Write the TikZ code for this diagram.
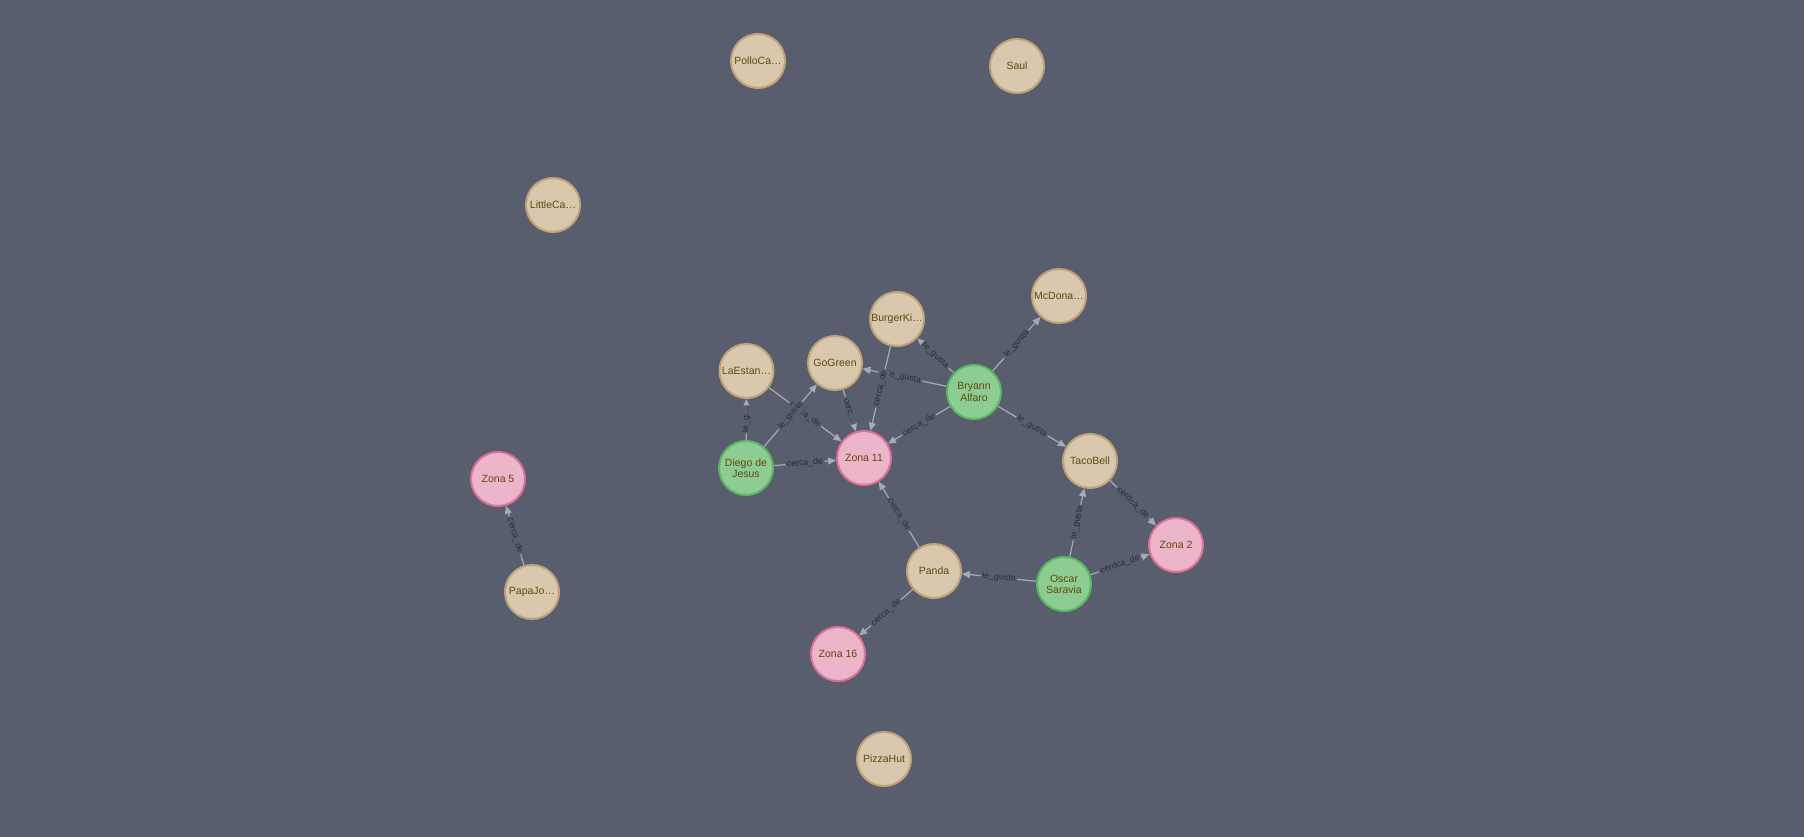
\documentclass[tikz,border=0pt]{standalone}
\usepackage{fontspec}
\setmainfont{Liberation Sans}
\usetikzlibrary{arrows.meta}
\definecolor{bg}{RGB}{89,94,111}
\definecolor{tanfill}{HTML}{D9C8AE}
\definecolor{tanline}{HTML}{C0A378}
\definecolor{grfill}{HTML}{8DCC93}
\definecolor{grline}{HTML}{5DB665}
\definecolor{pkfill}{HTML}{ECB5C9}
\definecolor{pkline}{HTML}{DA7298}
\definecolor{captxt}{HTML}{604A0E}
\definecolor{reltxt}{HTML}{2A2C34}
\definecolor{relcol}{HTML}{A5ABB6}
\begin{document}
\begin{tikzpicture}[x=1pt,y=-1pt,
 gnode/.style={circle, minimum size=54pt, inner sep=0pt, line width=2pt, outer sep=1pt, text=captxt, font=\fontsize{10.5}{11.2}\selectfont, align=center},
 place/.style={gnode, fill=tanfill, draw=tanline},
 person/.style={gnode, fill=grfill, draw=grline},
 zona/.style={gnode, fill=pkfill, draw=pkline},
 rel/.style={draw=relcol, line width=1.2pt, -{Triangle[length=8pt,width=7pt]}},
 rlab/.style={sloped, fill=bg, inner sep=1.5pt, text=reltxt, font=\fontsize{8.8}{9}\selectfont}
]
\fill[bg] (0,0) rectangle (1804,837);
\useasboundingbox (0,0) rectangle (1804,837);

\node[place] (pollo) at (758,61) {PolloCa…};
\node[place] (saul) at (1017,66) {Saul};
\node[place] (little) at (553,205) {LittleCa…};
\node[place] (burger) at (897,319) {BurgerKi…};
\node[place] (mcdona) at (1059,296) {McDona…};
\node[place] (laestan) at (746.5,371) {LaEstan…};
\node[place] (gogreen) at (835,363) {GoGreen};
\node[person] (bryann) at (974,392) {Bryann\\Alfaro};
\node[person] (diego) at (746,468) {Diego de\\Jesus};
\node[zona] (zona11) at (864,458) {Zona 11};
\node[place] (tacobell) at (1090,461) {TacoBell};
\node[zona] (zona5) at (498,479) {Zona 5};
\node[zona] (zona2) at (1176,545) {Zona 2};
\node[place] (panda) at (934,571) {Panda};
\node[person] (oscar) at (1064,584) {Oscar\\Saravia};
\node[place] (papajo) at (532,592) {PapaJo…};
\node[zona] (zona16) at (838,654) {Zona 16};
\node[place] (pizzahut) at (884,759) {PizzaHut};

\draw[rel] (bryann) -- node[rlab]{le\_gusta} (mcdona);
\draw[rel] (bryann) -- node[rlab]{le\_gusta} (burger);
\draw[rel] (bryann) -- node[rlab]{le\_gusta} (gogreen);
\draw[rel] (bryann) -- node[rlab]{cerca\_de} (zona11);
\draw[rel] (bryann) -- node[rlab]{le\_gusta} (tacobell);
\draw[rel] (burger) -- node[rlab]{cerca\_de} (zona11);
\draw[rel] (gogreen) -- node[rlab]{cerc…} (zona11);
\draw[rel] (laestan) -- node[rlab]{cerca\_de} (zona11);
\draw[rel] (diego) -- node[rlab]{le\_g…} (laestan);
\draw[rel] (diego) -- node[rlab]{le\_gusta} (gogreen);
\draw[rel] (diego) -- node[rlab]{cerca\_de} (zona11);
\draw[rel] (panda) -- node[rlab]{cerca\_de} (zona11);
\draw[rel] (panda) -- node[rlab]{cerca\_de} (zona16);
\draw[rel] (oscar) -- node[rlab]{le\_gusta} (panda);
\draw[rel] (oscar) -- node[rlab]{le\_gusta} (tacobell);
\draw[rel] (oscar) -- node[rlab]{cerdca\_de} (zona2);
\draw[rel] (tacobell) -- node[rlab]{cerdca\_de} (zona2);
\draw[rel] (papajo) -- node[rlab]{cerca\_de} (zona5);
\end{tikzpicture}
\end{document}
